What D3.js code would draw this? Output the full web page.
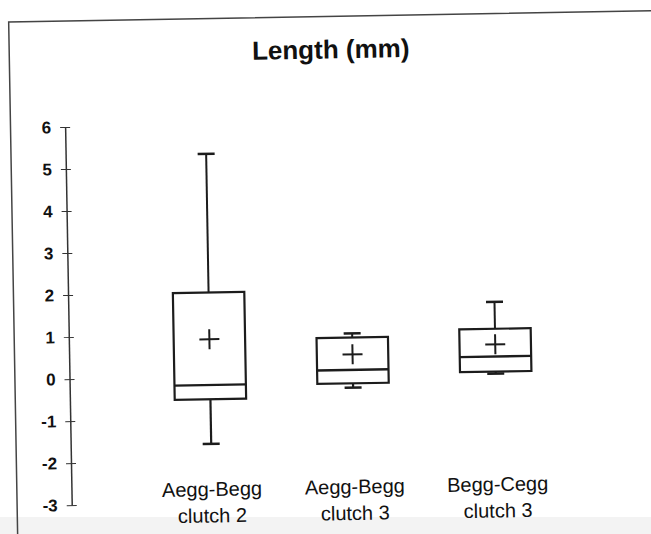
<!DOCTYPE html>
<html>
<head>
<meta charset="utf-8">
<script src="https://cdn.jsdelivr.net/npm/d3@7"></script>
<style>
  html, body { margin: 0; padding: 0; background: #fff; }
  svg { display: block; }
</style>
</head>
<body>
<div id="chart"></div>
<script>
(function () {

    var GROUPS  = ["Aegg-Begg clutch 2", "Aegg-Begg clutch 3", "Begg-Cegg clutch 3"];
    var LOW     = [-1.6, -0.32, -0.05];
    var Q1      = [-0.54, -0.22, 0.0];
    var MEDIAN  = [-0.2, 0.1, 0.36];
    var Q3      = [2.0, 0.87, 1.02];
    var HIGH    = [5.3, 0.97, 1.66];
    var MEAN    = [0.89, 0.47, 0.65];
    var Y_TICKS = [-3, -2, -1, 0, 1, 2, 3, 4, 5, 6];
    var TITLE   = "Length (mm)";

    var W = 651, H = 534;
    var INK = "#1c1c1c";
    var FONT = "'Liberation Sans', Arial, sans-serif";

    var svg = d3.select("#chart").append("svg")
        .attr("width", W)
        .attr("height", H);

    svg.append("rect").attr("width", W).attr("height", H).attr("fill", "#fff");

    // scanner shade along the bottom edge
    svg.append("rect")
        .attr("x", 0).attr("y", 517)
        .attr("width", W).attr("height", H - 517)
        .attr("fill", "#f3f3f3");

    // the scanned page sits about 1 degree off
    var g = svg.append("g").attr("transform", "rotate(-1,325,267)");

    // chart frame (only top and left edges are on the page)
    g.append("path")
        .attr("d", "M13,570V16.5H720")
        .attr("fill", "none")
        .attr("stroke", "#444")
        .attr("stroke-width", 1.5);

    g.append("text")
        .attr("x", 334.5).attr("y", 58.5)
        .attr("text-anchor", "middle")
        .style("font-family", FONT)
        .style("font-size", "26px")
        .style("font-weight", "bold")
        .attr("fill", "#111")
        .text(TITLE);

    /* scales */
    var y = d3.scaleLinear().domain([-3, 6]).range([500.6, 122.5]);
    var x = d3.scaleBand().domain(GROUPS).range([101, 601])
        .paddingInner(0.5).paddingOuter(0.5);

    /* y axis with ticks crossing the line */
    var axis = g.append("g")
        .attr("transform", "translate(67.6,0)")
        .call(d3.axisLeft(y)
            .tickValues(Y_TICKS)
            .tickFormat(function (v) { return String(v); })
            .tickSize(5).tickSizeOuter(0).tickPadding(9));

    axis.select(".domain").attr("stroke", "#333").attr("stroke-width", 1.5);
    axis.selectAll(".tick line").attr("x1", 5).attr("stroke", "#333").attr("stroke-width", 1);
    axis.selectAll(".tick text")
        .style("font-family", FONT)
        .style("font-size", "17px")
        .style("font-weight", "bold")
        .attr("fill", "#111");

    /* boxes */
    var bw  = x.bandwidth();
    var cap = 8.5;
    var arm = 10;

    GROUPS.forEach(function (name, i) {
        var x0 = x(name), cx = x0 + bw / 2;
        var b = g.append("g").attr("class", "box")
            .attr("stroke", INK).attr("fill", "none");

        // whiskers
        b.append("line").attr("x1", cx).attr("x2", cx)
            .attr("y1", y(HIGH[i])).attr("y2", y(Q3[i])).attr("stroke-width", 2);
        b.append("line").attr("x1", cx).attr("x2", cx)
            .attr("y1", y(Q1[i])).attr("y2", y(LOW[i])).attr("stroke-width", 2.2);
        b.append("line").attr("x1", cx - cap).attr("x2", cx + cap)
            .attr("y1", y(HIGH[i])).attr("y2", y(HIGH[i])).attr("stroke-width", 2.5);
        b.append("line").attr("x1", cx - cap).attr("x2", cx + cap)
            .attr("y1", y(LOW[i])).attr("y2", y(LOW[i])).attr("stroke-width", 2.5);

        // box + median
        b.append("rect")
            .attr("x", x0).attr("width", bw)
            .attr("y", y(Q3[i])).attr("height", y(Q1[i]) - y(Q3[i]))
            .attr("stroke-width", 2.2);
        b.append("line").attr("x1", x0).attr("x2", x0 + bw)
            .attr("y1", y(MEDIAN[i])).attr("y2", y(MEDIAN[i])).attr("stroke-width", 2.4);

        // mean
        b.append("line").attr("x1", cx - arm).attr("x2", cx + arm)
            .attr("y1", y(MEAN[i])).attr("y2", y(MEAN[i])).attr("stroke-width", 2);
        b.append("line").attr("x1", cx).attr("x2", cx)
            .attr("y1", y(MEAN[i]) - arm).attr("y2", y(MEAN[i]) + arm).attr("stroke-width", 2);

        // category label, two lines
        var parts = name.split(" ");
        var lines = [parts[0], parts.slice(1).join(" ")];
        lines.forEach(function (t, k) {
            g.append("text")
                .attr("x", cx).attr("y", 494 + k * 26.5)
                .attr("text-anchor", "middle")
                .style("font-family", FONT)
                .style("font-size", "20px")
                .attr("fill", "#111")
                .text(t);
        });
    });

}());
</script>
</body>
</html>
